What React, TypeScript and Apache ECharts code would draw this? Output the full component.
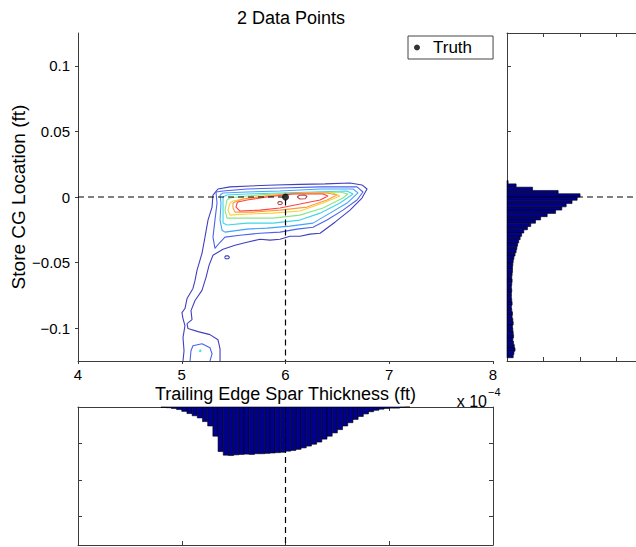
import React, { useEffect, useRef } from 'react';
import * as echarts from 'echarts';

const FONT = '"Liberation Sans", Arial, Helvetica, sans-serif';

// Axis ticks
const xTicks = [4, 5, 6, 7, 8];
const yTicks = [-0.1, -0.05, 0, 0.05, 0.1];
const countTicks = [100, 200, 300];

const truthPoint: [number, number] = [6, 0];

// Posterior density contours, outermost to innermost (x in 1e-4 ft, y in ft)
const contourOuter = [
  [5.012, -0.125], [5.022, -0.1172], [5.012, -0.1072], [5.031, -0.098], [5.012, -0.0927],
  [5.002, -0.0881], [5.031, -0.085], [5.051, -0.0774], [5.108, -0.0697], [5.128, -0.0636],
  [5.147, -0.0559], [5.195, -0.0429], [5.224, -0.0306], [5.253, -0.0176], [5.292, -0.0077],
  [5.301, 0.0015], [5.349, 0.0061], [5.465, 0.0077], [5.658, 0.0084], [5.899, 0.0092],
  [6.14, 0.0096], [6.381, 0.01], [6.622, 0.0107], [6.737, 0.0092], [6.786, 0.0061],
  [6.737, -0.0008], [6.622, -0.01], [6.477, -0.0192], [6.333, -0.0276], [6.236, -0.0283],
  [6.14, -0.0299], [6.043, -0.0299], [5.947, -0.0322], [5.851, -0.0329], [5.754, -0.0322],
  [5.629, -0.0345], [5.513, -0.0368], [5.398, -0.0398], [5.301, -0.0444], [5.263, -0.0521],
  [5.234, -0.0613], [5.195, -0.0712], [5.128, -0.0789], [5.089, -0.0866], [5.099, -0.0935],
  [5.051, -0.0965], [5.06, -0.1003], [5.157, -0.1026], [5.272, -0.1049], [5.349, -0.1088],
  [5.369, -0.1157], [5.369, -0.125],
];
const contourOuterIsland = [
  [5.412, -0.046], [5.424, -0.0449], [5.448, -0.0449], [5.46, -0.046], [5.448, -0.0471],
  [5.424, -0.0471], [5.412, -0.046],
];
const contourBlue = [
  [5.33, 0.0038], [5.34, -0.0046], [5.32, -0.0176], [5.301, -0.0306], [5.32, -0.0391],
  [5.369, -0.0345], [5.417, -0.0306], [5.561, -0.0291], [5.754, -0.0276], [5.947, -0.0268],
  [6.111, -0.0245], [6.265, -0.023], [6.4, -0.0176], [6.554, -0.01], [6.689, -0.0023],
  [6.747, 0.0038], [6.689, 0.0077], [6.333, 0.0077], [5.947, 0.0069], [5.629, 0.0061],
  [5.398, 0.0046], [5.33, 0.0038],
];
const contourBlueLower = [
  [5.08, -0.125], [5.089, -0.1172], [5.108, -0.1134], [5.195, -0.1118], [5.272, -0.1149],
  [5.292, -0.1195], [5.272, -0.125],
];
const contourSky = [
  [5.369, 0.0015], [5.378, -0.0046], [5.369, -0.0176], [5.388, -0.0253], [5.417, -0.0268],
  [5.629, -0.0245], [5.822, -0.0237], [6.043, -0.0222], [6.265, -0.0199], [6.429, -0.0123],
  [6.593, -0.0046], [6.699, 0.0031], [6.651, 0.0061], [6.333, 0.0061], [5.947, 0.0046],
  [5.629, 0.0038], [5.398, 0.0031], [5.369, 0.0015],
];
const contourCyan = [
  [5.398, 0], [5.398, -0.01], [5.398, -0.0199], [5.436, -0.0214], [5.629, -0.0199],
  [5.88, -0.0199], [6.14, -0.0176], [6.333, -0.0123], [6.525, -0.0046], [6.651, 0.0023],
  [6.593, 0.0046], [6.265, 0.0038], [5.947, 0.0031], [5.629, 0.0023], [5.436, 0.0015],
  [5.398, 0],
];
const contourCyanLower = [
  [5.171, -0.1172], [5.18, -0.1164], [5.186, -0.1175], [5.174, -0.118], [5.171, -0.1172],
];
const contourGreen = [
  [5.436, -0.0023], [5.417, -0.01], [5.436, -0.0161], [5.629, -0.0161], [5.88, -0.0161],
  [6.14, -0.0138], [6.361, -0.0084], [6.554, -0.0008], [6.602, 0.0023], [6.525, 0.0038],
  [6.207, 0.0031], [5.88, 0.0023], [5.629, 0.0008], [5.465, -0.0008], [5.436, -0.0023],
];
const contourYellow = [
  [5.465, -0.0046], [5.446, -0.01], [5.465, -0.0138], [5.629, -0.013], [5.88, -0.0123],
  [6.14, -0.0107], [6.361, -0.0046], [6.525, 0.0008], [6.458, 0.0031], [6.207, 0.0031],
  [5.88, 0.0015], [5.629, -0.0008], [5.494, -0.0031], [5.465, -0.0046],
];
const contourOrange = [
  [5.494, -0.0046], [5.494, -0.0084], [5.513, -0.0115], [5.687, -0.0115], [5.947, -0.01],
  [6.207, -0.0077], [6.4, -0.0023], [6.496, 0.0015], [6.4, 0.0031], [6.111, 0.0031],
  [5.822, 0.0008], [5.59, -0.0015], [5.513, -0.0038], [5.494, -0.0046],
];
const contourRed = [
  [5.533, -0.0046], [5.523, -0.0077], [5.561, -0.0107], [5.754, -0.01], [5.947, -0.0084],
  [6.14, -0.0054], [6.333, -0.0023], [6.41, 0.0008], [6.361, 0.0023], [6.072, 0.0023],
  [5.822, 0], [5.629, -0.0023], [5.542, -0.0038], [5.533, -0.0046],
];
const contourPeakA = [
  [5.923, -0.0046], [5.935, -0.0035], [5.959, -0.0035], [5.971, -0.0046], [5.959, -0.0057],
  [5.935, -0.0057], [5.923, -0.0046],
];
const contourPeakB = [
  [6.111, 0], [6.135, 0.0013], [6.183, 0.0015], [6.207, 0.0005], [6.19, -0.0013],
  [6.14, -0.0015], [6.111, 0],
];

const contourSets: [number[][], string][] = [
  [contourOuter, '#4040c0'],
  [contourOuterIsland, '#4040c0'],
  [contourBlue, '#4c62ee'],
  [contourBlueLower, '#4c62ee'],
  [contourSky, '#45a2ff'],
  [contourCyan, '#3fd6e6'],
  [contourCyanLower, '#3fe6e6'],
  [contourGreen, '#8ae68a'],
  [contourYellow, '#f6d23c'],
  [contourOrange, '#ff9a3c'],
  [contourRed, '#ff4040'],
  [contourPeakA, '#b04848'],
  [contourPeakB, '#b04848'],
];

// Marginal histogram of Store CG Location (bins run downward from the top edge)
const rightHistTop = 0.0125;
const rightHistBinWidth = 0.0025;
const rightHistCounts = [
  3, 25, 70, 140, 200, 192, 178, 162, 150, 133,
  110, 92, 78, 65, 56, 46, 40, 36, 32, 29,
  27, 25, 22, 19, 17, 16, 15, 15, 14, 13,
  14, 13, 12, 13, 12, 12, 13, 14, 12, 13,
  15, 14, 16, 17, 15, 16, 17, 18, 16, 18,
  20, 22, 19, 17,
];

// Marginal histogram of Trailing Edge Spar Thickness
const bottomHistStart = 4.8;
const bottomHistBinWidth = 0.05;
const bottomHistCounts = [
  1, 2, 4, 7, 12, 18, 24, 30, 40, 52,
  80, 122, 132, 133, 131, 130, 129, 130, 128, 128,
  127, 126, 125, 124, 121, 119, 116, 112, 107, 102,
  96, 88, 80, 71, 62, 52, 43, 34, 26, 19,
  13, 9, 6, 4, 3, 3, 1, 0,
];

// Count axes: the right panel runs off the edge of the figure
const rightCountMax = 353;
const bottomCountMax = 378;

const AXIS_COLOR = '#3c3c3c';

function fmtY(v: number): string {
  if (Math.abs(v) < 1e-12) return '0';
  const s = String(Math.round(Math.abs(v) * 1000) / 1000);
  return (v < 0 ? '\u2212' : '') + s;
}

export default function App() {
  const ref = useRef<HTMLDivElement>(null);

  useEffect(() => {
    if (!ref.current) return;
    const chart = echarts.init(ref.current, undefined, { renderer: 'svg' });

    const rightHistData = rightHistCounts.map((c, i) => {
      const hi = rightHistTop - i * rightHistBinWidth;
      return [hi - rightHistBinWidth, hi, c];
    });
    const bottomHistData = bottomHistCounts.map((c, i) => {
      const lo = bottomHistStart + i * bottomHistBinWidth;
      return [lo, lo + bottomHistBinWidth, c];
    });

    const barStyle = { fill: '#00008c', stroke: '#000', lineWidth: 0.6 };
    const dashed = { color: '#000', width: 1.2, type: [6, 4] as number[] };
    const tick = (values: number[]) => ({
      show: true, inside: true, length: 4, customValues: values, lineStyle: { color: AXIS_COLOR },
    });

    const boxAxis = (extra: any) => ({
      axisLine: { show: true, onZero: false, lineStyle: { color: AXIS_COLOR, width: 1 } },
      axisLabel: { show: false },
      splitLine: { show: false },
      ...extra,
    });

    const contourSeries = contourSets.map(([pts, color], k) => ({
      type: 'line',
      name: 'contour' + k,
      xAxisIndex: 0,
      yAxisIndex: 0,
      data: pts,
      showSymbol: false,
      symbol: 'none',
      smooth: false,
      silent: true,
      lineStyle: { color, width: 1.1 },
      z: 2,
    }));

    chart.setOption({
      animation: false,
      title: {
        text: '2 Data Points',
        left: 286,
        top: 4,
        textAlign: 'center',
        textStyle: { fontFamily: FONT, fontSize: 18, fontWeight: 'normal', color: '#000' },
      },
      legend: {
        data: [{ name: 'Truth', icon: 'circle' }],
        left: 408,
        top: 36,
        itemWidth: 22,
        itemHeight: 6,
        padding: [3, 21, 3, 6],
        borderColor: '#444',
        borderWidth: 1,
        backgroundColor: '#fff',
        selectedMode: false,
        textStyle: { fontFamily: FONT, fontSize: 17, color: '#000' },
      },
      grid: [
        { left: 78, top: 33, width: 415, height: 328, outerBoundsMode: 'none', containLabel: false },
        { left: 507, top: 33, right: 0, height: 328, outerBoundsMode: 'none', containLabel: false },
        { left: 78, top: 407, width: 415, height: 138, outerBoundsMode: 'none', containLabel: false },
      ],
      xAxis: [
        {
          type: 'value', gridIndex: 0, min: 4, max: 8, position: 'bottom',
          name: 'Trailing Edge Spar Thickness (ft)', nameLocation: 'middle', nameGap: 24,
          nameMoveOverlap: false,
          nameTextStyle: { fontFamily: FONT, fontSize: 18, color: '#000' },
          axisLine: { show: true, onZero: false, lineStyle: { color: AXIS_COLOR } },
          axisTick: { show: true, inside: false, length: 3, customValues: xTicks, lineStyle: { color: AXIS_COLOR } },
          axisLabel: { show: true, customValues: xTicks, margin: 6, fontFamily: FONT, fontSize: 15, color: '#000', formatter: (v: number) => String(v) },
          splitLine: { show: false },
        },
        boxAxis({ type: 'value', gridIndex: 1, min: 0, max: rightCountMax, position: 'bottom', axisTick: tick(countTicks) }),
        boxAxis({ type: 'value', gridIndex: 1, min: 0, max: rightCountMax, position: 'top', axisTick: tick(countTicks) }),
        boxAxis({ type: 'value', gridIndex: 2, min: 4, max: 8, position: 'top', axisTick: tick([5, 6, 7]) }),
        boxAxis({ type: 'value', gridIndex: 2, min: 4, max: 8, position: 'bottom', axisTick: tick([5, 6, 7]) }),
      ],
      yAxis: [
        {
          type: 'value', gridIndex: 0, min: -0.125, max: 0.125, position: 'left',
          name: 'Store CG Location (ft)', nameLocation: 'middle', nameGap: 50,
          nameMoveOverlap: false,
          nameTextStyle: { fontFamily: FONT, fontSize: 19, color: '#000' },
          axisLine: { show: true, onZero: false, lineStyle: { color: AXIS_COLOR } },
          axisTick: { show: true, inside: false, length: 3, customValues: yTicks, lineStyle: { color: AXIS_COLOR } },
          axisLabel: { show: true, customValues: yTicks, margin: 8, fontFamily: FONT, fontSize: 15, color: '#000', formatter: fmtY },
          splitLine: { show: false },
        },
        boxAxis({ type: 'value', gridIndex: 1, min: -0.125, max: 0.125, position: 'left', axisTick: tick(yTicks) }),
        boxAxis({ type: 'value', gridIndex: 2, min: 0, max: bottomCountMax, inverse: true, position: 'left', axisTick: tick(countTicks) }),
        boxAxis({ type: 'value', gridIndex: 2, min: 0, max: bottomCountMax, inverse: true, position: 'right', axisTick: tick(countTicks) }),
      ],
      graphic: [
        { type: 'text', x: 487, y: 401, style: { text: 'x 10', fontFamily: FONT, fontSize: 16, fill: '#000', align: 'right', verticalAlign: 'middle' } },
        { type: 'text', x: 488, y: 392, style: { text: '\u22124', fontFamily: FONT, fontSize: 11, fill: '#000', align: 'left', verticalAlign: 'middle' } },
      ],
      series: [
        ...contourSeries,
        {
          type: 'line', name: 'truthGuide', xAxisIndex: 0, yAxisIndex: 0,
          data: [[4, truthPoint[1]], truthPoint, [truthPoint[0], -0.125]],
          showSymbol: false, symbol: 'none', silent: true, lineStyle: dashed, z: 3,
        },
        {
          type: 'scatter', name: 'Truth', xAxisIndex: 0, yAxisIndex: 0,
          data: [truthPoint], symbol: 'circle', symbolSize: 7,
          itemStyle: { color: '#000' }, z: 4,
        },
        {
          type: 'line', name: 'truthGuideRight', xAxisIndex: 1, yAxisIndex: 1,
          data: [[0, truthPoint[1]], [rightCountMax, truthPoint[1]]],
          showSymbol: false, symbol: 'none', silent: true, lineStyle: dashed, z: 1,
        },
        {
          type: 'custom', name: 'cgHist', xAxisIndex: 1, yAxisIndex: 1,
          data: rightHistData, silent: true, z: 2,
          renderItem: (_p: any, api: any) => {
            const lo = api.value(0), hi = api.value(1), c = api.value(2);
            const a = api.coord([0, lo]);
            const b = api.coord([c, hi]);
            return {
              type: 'rect',
              shape: { x: a[0], y: b[1], width: b[0] - a[0], height: a[1] - b[1] },
              style: barStyle,
            };
          },
        },
        {
          type: 'line', name: 'truthGuideBottom', xAxisIndex: 3, yAxisIndex: 2,
          data: [[truthPoint[0], 0], [truthPoint[0], bottomCountMax]],
          showSymbol: false, symbol: 'none', silent: true, lineStyle: dashed, z: 1,
        },
        {
          type: 'custom', name: 'sparHist', xAxisIndex: 3, yAxisIndex: 2,
          data: bottomHistData, silent: true, z: 2,
          renderItem: (_p: any, api: any) => {
            const lo = api.value(0), hi = api.value(1), c = api.value(2);
            const a = api.coord([lo, 0]);
            const b = api.coord([hi, c]);
            return {
              type: 'rect',
              shape: { x: a[0], y: a[1], width: b[0] - a[0], height: b[1] - a[1] },
              style: barStyle,
            };
          },
        },
      ],
    });

    return () => chart.dispose();
  }, []);

  return (
    <div
      ref={ref}
      style={{ position: 'fixed', left: 0, top: 0, width: 636, height: 547, background: '#fff' }}
    />
  );
}
